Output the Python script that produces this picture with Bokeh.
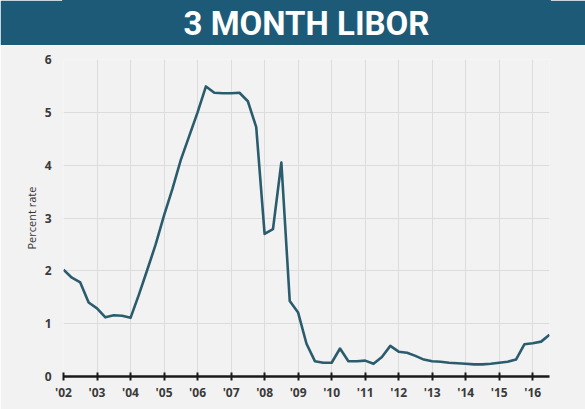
from bokeh.plotting import figure
from bokeh.models import Range1d, FixedTicker
from bokeh.layouts import column
from bokeh.core.properties import value
from bokeh.embed import file_html
from bokeh.resources import INLINE

title_text = "3 MONTH LIBOR"
y_label = "Percent rate"

quarters = [2002.0, 2002.25, 2002.5, 2002.75,
            2003.0, 2003.25, 2003.5, 2003.75,
            2004.0, 2004.25, 2004.5, 2004.75,
            2005.0, 2005.25, 2005.5, 2005.75,
            2006.0, 2006.25, 2006.5, 2006.75,
            2007.0, 2007.25, 2007.5, 2007.75,
            2008.0, 2008.25, 2008.5, 2008.75,
            2009.0, 2009.25, 2009.5, 2009.75,
            2010.0, 2010.25, 2010.5, 2010.75,
            2011.0, 2011.25, 2011.5, 2011.75,
            2012.0, 2012.25, 2012.5, 2012.75,
            2013.0, 2013.25, 2013.5, 2013.75,
            2014.0, 2014.25, 2014.5, 2014.75,
            2015.0, 2015.25, 2015.5, 2015.75,
            2016.0, 2016.25, 2016.5]
libor = [2.02, 1.87, 1.78, 1.40,
         1.29, 1.12, 1.16, 1.15,
         1.11, 1.55, 2.02, 2.50,
         3.05, 3.55, 4.10, 4.55,
         5.00, 5.49, 5.37, 5.36,
         5.36, 5.37, 5.21, 4.72,
         2.70, 2.79, 4.05, 1.43,
         1.21, 0.62, 0.29, 0.26,
         0.26, 0.53, 0.29, 0.29,
         0.30, 0.24, 0.37, 0.58,
         0.47, 0.45, 0.39, 0.32,
         0.29, 0.28, 0.26, 0.25,
         0.24, 0.23, 0.23, 0.24,
         0.26, 0.28, 0.32, 0.61,
         0.63, 0.66, 0.79]

year_ticks = [2002, 2003, 2004, 2005, 2006, 2007, 2008, 2009,
              2010, 2011, 2012, 2013, 2014, 2015, 2016]
year_labels = ["'02", "'03", "'04", "'05", "'06", "'07", "'08", "'09",
               "'10", "'11", "'12", "'13", "'14", "'15", "'16"]
y_ticks = [0, 1, 2, 3, 4, 5, 6]

BAND = "#1d5a78"
BG = "#f2f2f2"
LINE = "#2a5c6e"
FONT = "Open Sans"
LABEL = "#3a3a3a"

# Title band
t = figure(width=585, height=45, output_backend="svg", toolbar_location=None,
           x_range=Range1d(0, 1), y_range=Range1d(0, 1),
           min_border=0, min_border_left=0, min_border_right=0,
           min_border_top=0, min_border_bottom=0)
t.axis.visible = False
t.grid.visible = False
t.background_fill_color = BAND
t.border_fill_color = BAND
t.outline_line_color = BAND
t.outline_line_width = 3
t.text(x=[0.5], y=[0.5], text=[title_text], text_align="center",
       text_baseline="middle", text_color="white",
       text_font=value("Roboto"), text_font_style="bold",
       text_font_size="33px")

# Main chart
p = figure(width=585, height=364, output_backend="svg", toolbar_location=None,
           x_range=Range1d(2002, 2016.5), y_range=Range1d(0, 6),
           min_border_left=63, min_border_right=36,
           min_border_top=14, min_border_bottom=33)
p.outline_line_color = None
p.background_fill_color = BG
p.border_fill_color = BG

p.line(quarters, libor, line_color=LINE, line_width=2.6, line_join="round")

p.xaxis.ticker = FixedTicker(ticks=year_ticks)
p.xaxis.major_label_overrides = {tk: lb for tk, lb in zip(year_ticks, year_labels)}
p.xaxis.minor_tick_line_color = None
p.xaxis.axis_line_color = "#1a1a1a"
p.xaxis.axis_line_width = 2.5
p.xaxis.major_tick_line_color = "#1a1a1a"
p.xaxis.major_tick_line_width = 2
p.xaxis.major_tick_in = 4
p.xaxis.major_tick_out = 4
p.xaxis.major_label_standoff = 3
p.xaxis.major_label_text_font = FONT
p.xaxis.major_label_text_font_size = "12px"
p.xaxis.major_label_text_font_style = "bold"
p.xaxis.major_label_text_color = LABEL

p.yaxis.ticker = FixedTicker(ticks=y_ticks)
p.yaxis.minor_tick_line_color = None
p.yaxis.major_tick_line_color = None
p.yaxis.axis_line_color = None
p.yaxis.major_label_standoff = 6
p.yaxis.major_label_text_font = FONT
p.yaxis.major_label_text_font_size = "12px"
p.yaxis.major_label_text_font_style = "bold"
p.yaxis.major_label_text_color = LABEL
p.yaxis.axis_label = y_label
p.yaxis.axis_label_text_font = FONT
p.yaxis.axis_label_text_font_size = "11px"
p.yaxis.axis_label_text_font_style = "normal"
p.yaxis.axis_label_text_color = "#333333"
p.yaxis.axis_label_standoff = 3

p.xgrid.grid_line_color = "#dcdcdc"
p.ygrid.grid_line_color = "#dcdcdc"
p.xgrid.grid_line_width = 1
p.ygrid.grid_line_width = 1

layout = column(t, p, spacing=0)
open("out.html", "w").write(file_html(layout, INLINE))
